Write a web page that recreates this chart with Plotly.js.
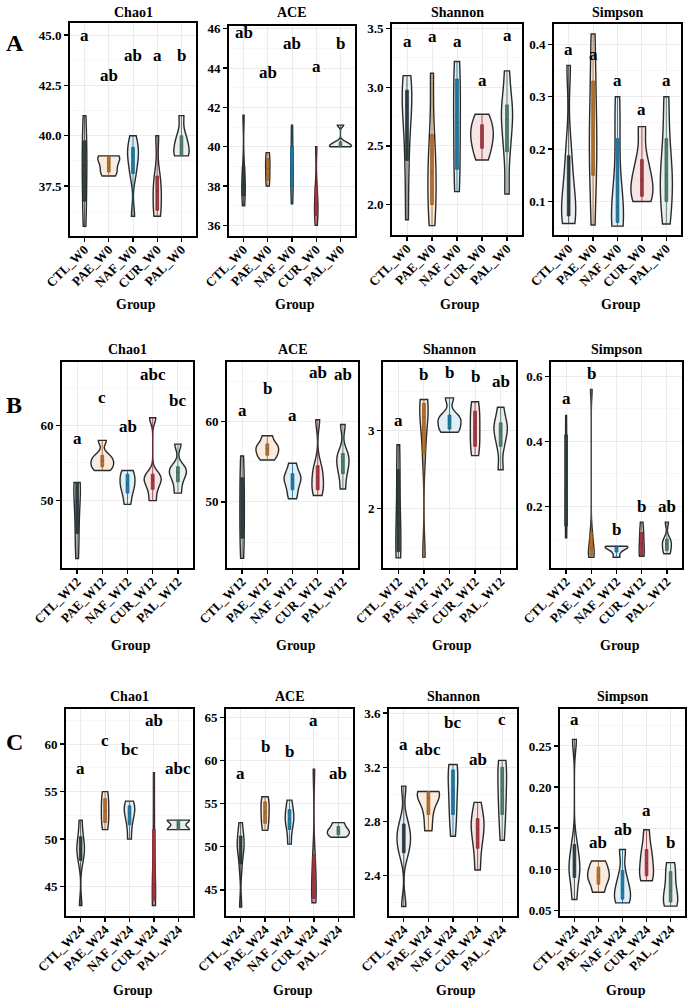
<!DOCTYPE html>
<html>
<head>
<meta charset="utf-8">
<script src="https://cdn.plot.ly/plotly-3.0.1.min.js"></script>
<style>html,body{margin:0;padding:0;background:#fff}</style>
</head>
<body>
<div id="chart" style="width:694px;height:1005px"></div>
<script>
// Treatment groups and sampling weeks
const groups = ['CTL', 'PAE', 'NAF', 'CUR', 'PAL'];
const weeks = ['W0', 'W12', 'W24'];
const indices = ['Chao1', 'ACE', 'Shannon', 'Simpson'];

// Per-sample alpha diversity values, one inner list per group (CTL, PAE, NAF, CUR, PAL)
const chao1W0 = [
  [35.5, 36.5, 37.5, 38.5, 39, 40, 41],
  [38, 38.2, 38.5, 38.8, 39, 39],
  [36, 38, 38.5, 39, 39.2, 39.5, 40],
  [36, 36.3, 37, 37.5, 38, 40],
  [39, 39, 39.3, 39.7, 40, 41]
];
const aceW0 = [
  [37, 37.5, 38, 38.2, 39, 41.6],
  [38, 38.4, 38.9, 39.3, 39.7],
  [37.1, 38, 38.5, 39, 40, 41.1],
  [36, 36.5, 37, 37.2, 38, 40],
  [40, 40, 40.05, 40.15, 40.25, 41.1]
];
const shannonW0 = [
  [1.87, 2.3, 2.6, 2.85, 2.9, 3.0, 3.1],
  [1.82, 2.0, 2.2, 2.35, 2.6, 3.12],
  [2.11, 2.3, 2.6, 2.8, 3.07, 3.22],
  [2.38, 2.48, 2.55, 2.62, 2.68, 2.77],
  [2.09, 2.45, 2.65, 2.8, 2.85, 3.14]
];
const simpsonW0 = [
  [0.058, 0.07, 0.08, 0.1, 0.15, 0.2, 0.36],
  [0.055, 0.15, 0.2, 0.25, 0.33, 0.42],
  [0.053, 0.06, 0.08, 0.1, 0.22, 0.3],
  [0.1, 0.11, 0.13, 0.15, 0.18, 0.243],
  [0.057, 0.1, 0.14, 0.16, 0.22, 0.3]
];
const chao1W12 = [
  [42.3, 45, 47.5, 50, 52, 52.4, 52.4],
  [54, 54.5, 55, 55.5, 56, 58],
  [49.5, 51, 52, 52.5, 53.5, 54],
  [50, 51.5, 52.5, 53, 53.5, 61],
  [51, 52.5, 53.5, 54, 54.5, 57.5]
];
const aceW12 = [
  [43, 45.5, 48, 50.5, 53, 55.7],
  [55.2, 55.8, 56.3, 56.8, 57.2, 58.2],
  [50.4, 51.5, 52.5, 53, 53.5, 54.8],
  [50.8, 51.5, 52.5, 53.5, 54.5, 60.2],
  [51.6, 53.5, 54.5, 55.5, 56, 59.6]
];
const shannonW12 = [
  [1.37, 1.45, 1.6, 2.0, 2.5, 2.82],
  [1.38, 2.7, 3.1, 3.25, 3.35, 3.4],
  [2.98, 3.02, 3.1, 3.15, 3.2, 3.42],
  [2.68, 2.8, 2.95, 3.1, 3.25, 3.37],
  [2.5, 2.8, 2.95, 3.05, 3.1, 3.3]
];
const simpsonW12 = [
  [0.104, 0.14, 0.2, 0.3, 0.42, 0.48],
  [0.044, 0.05, 0.06, 0.08, 0.12, 0.56],
  [0.044, 0.06, 0.07, 0.075, 0.078, 0.078],
  [0.047, 0.05, 0.07, 0.1, 0.12, 0.152],
  [0.055, 0.065, 0.08, 0.09, 0.1, 0.152]
];
const chao1W24 = [
  [43, 47.5, 48.5, 49, 49.5, 50.5, 52],
  [51, 52, 53, 54, 55],
  [50, 51.5, 52.5, 53, 53.5, 54],
  [43, 43.5, 44.5, 46, 51, 57],
  [51, 51, 51, 52, 52, 52]
];
const aceW24 = [
  [43, 47.5, 49.5, 50, 50.5, 51.5, 52.8],
  [51.9, 53, 54, 55, 55.8],
  [50.3, 52, 53, 53.5, 54.3, 55.4],
  [43.5, 44, 45.5, 47, 49, 59],
  [51.1, 51.5, 51.8, 52.2, 52.8]
];
const shannonW24 = [
  [2.17, 2.55, 2.62, 2.68, 2.72, 2.8, 3.06],
  [2.73, 2.85, 2.95, 3.0, 3.02, 3.02],
  [2.69, 2.85, 2.95, 3.1, 3.18, 3.22],
  [2.44, 2.6, 2.7, 2.78, 2.82, 2.94],
  [2.66, 2.85, 2.95, 3.1, 3.2, 3.25]
];
const simpsonW24 = [
  [0.063, 0.09, 0.1, 0.11, 0.13, 0.258],
  [0.072, 0.085, 0.092, 0.1, 0.11],
  [0.059, 0.065, 0.075, 0.09, 0.124],
  [0.086, 0.092, 0.1, 0.115, 0.124, 0.148],
  [0.055, 0.06, 0.065, 0.08, 0.097, 0.108]
];

// Significance letters per group and the height each letter sits at
const chao1W0Letters = ['a', 'ab', 'ab', 'a', 'b'];
const chao1W0LetterY = [45.0, 43.0, 44.0, 44.0, 44.0];
const aceW0Letters = ['ab', 'ab', 'ab', 'a', 'b'];
const aceW0LetterY = [45.8, 43.8, 45.25, 44.1, 45.25];
const shannonW0Letters = ['a', 'a', 'a', 'a', 'a'];
const shannonW0LetterY = [3.39, 3.43, 3.39, 3.06, 3.44];
const simpsonW0Letters = ['a', 'a', 'a', 'a', 'a'];
const simpsonW0LetterY = [0.39, 0.38, 0.332, 0.276, 0.332];
const chao1W12Letters = ['a', 'c', 'ab', 'abc', 'bc'];
const chao1W12LetterY = [58.2, 63.7, 59.8, 66.8, 63.3];
const aceW12Letters = ['a', 'b', 'a', 'ab', 'ab'];
const aceW12LetterY = [61.4, 64.1, 60.7, 66.1, 65.8];
const shannonW12Letters = ['a', 'b', 'b', 'b', 'ab'];
const shannonW12LetterY = [3.13, 3.72, 3.74, 3.70, 3.63];
const simpsonW12Letters = ['a', 'b', 'b', 'b', 'ab'];
const simpsonW12LetterY = [0.533, 0.61, 0.13, 0.20, 0.20];
const chao1W24Letters = ['a', 'c', 'bc', 'ab', 'abc'];
const chao1W24LetterY = [57.4, 60.4, 59.4, 62.5, 57.4];
const aceW24Letters = ['a', 'b', 'b', 'a', 'ab'];
const aceW24LetterY = [58.5, 61.6, 61.0, 64.6, 58.5];
const shannonW24Letters = ['a', 'abc', 'bc', 'ab', 'c'];
const shannonW24LetterY = [3.37, 3.33, 3.53, 3.26, 3.55];
const simpsonW24Letters = ['a', 'ab', 'ab', 'a', 'b'];
const simpsonW24LetterY = [0.282, 0.133, 0.148, 0.172, 0.133];

const panelData = [
  [chao1W0, aceW0, shannonW0, simpsonW0],
  [chao1W12, aceW12, shannonW12, simpsonW12],
  [chao1W24, aceW24, shannonW24, simpsonW24]
];
const panelLetters = [
  [[chao1W0Letters, chao1W0LetterY], [aceW0Letters, aceW0LetterY], [shannonW0Letters, shannonW0LetterY], [simpsonW0Letters, simpsonW0LetterY]],
  [[chao1W12Letters, chao1W12LetterY], [aceW12Letters, aceW12LetterY], [shannonW12Letters, shannonW12LetterY], [simpsonW12Letters, simpsonW12LetterY]],
  [[chao1W24Letters, chao1W24LetterY], [aceW24Letters, aceW24LetterY], [shannonW24Letters, shannonW24LetterY], [simpsonW24Letters, simpsonW24LetterY]]
];

// ---- styling ----
const W = 694, H = 1005;
const SERIF = 'Liberation Serif, Times New Roman, serif';
const fillColors = ['#eceff1', '#f9ebdf', '#e0eff7', '#f6e5e4', '#e9efeb'];
const boxColors = ['#2f3c40', '#b8712a', '#1d79a6', '#a83640', '#4e7d6c'];
const boxEdge = ['#263033', '#8e5620', '#175f82', '#832a32', '#3c6153'];

// panel frames in pixels: [left, right, top, bottom]
const frames = [
  [[70, 196, 23, 236], [229, 355, 26, 236], [392, 522, 24, 235], [554, 681, 24, 235]],
  [[62, 193, 362, 568], [227, 358, 362, 568], [383, 516, 362, 568], [551, 682, 362, 568]],
  [[66, 193, 709, 916], [226, 353, 709, 916], [389, 517, 709, 916], [560, 685, 709, 916]]
];
const yRanges = [
  [[35.02, 45.6], [35.46, 46.14], [1.74, 3.54], [0.036, 0.439]],
  [[41.06, 68.4], [41.8, 67.36], [1.24, 3.88], [0.011, 0.644]],
  [[41.9, 63.7], [41.97, 65.97], [2.10, 3.63], [0.043, 0.295]]
];
const yTicks = [
  [[37.5, 2.5, '.1f'], [36, 2, ''], [2.0, 0.5, '.1f'], [0.1, 0.1, '.1f']],
  [[50, 10, ''], [50, 10, ''], [2, 1, ''], [0.2, 0.2, '.1f']],
  [[45, 5, ''], [45, 5, ''], [2.4, 0.4, '.1f'], [0.05, 0.05, '.2f']]
];
const titleY = [12, 349, 696];
const groupLabelY = [304, 645, 990];
const rowTags = [['A', 15, 43], ['B', 14, 405], ['C', 14, 742]];

// ---- kernel density helpers (Gaussian kernel, nrd0 bandwidth) ----
function quantile(sorted, p) {
  const h = (sorted.length - 1) * p, lo = Math.floor(h);
  const hi = Math.min(lo + 1, sorted.length - 1);
  return sorted[lo] + (h - lo) * (sorted[hi] - sorted[lo]);
}
function nrd0(v) {
  const n = v.length, s = [...v].sort((a, b) => a - b);
  const mean = v.reduce((a, b) => a + b, 0) / n;
  const sd = Math.sqrt(v.reduce((a, b) => a + (b - mean) * (b - mean), 0) / (n - 1));
  const iqr = quantile(s, 0.75) - quantile(s, 0.25);
  let lo = Math.min(sd, iqr / 1.34);
  if (!(lo > 0)) lo = sd || Math.abs(s[0]) || 1;
  return 0.9 * lo * Math.pow(n, -0.2);
}
function peakDensity(v, bw) {
  const mn = Math.min(...v), mx = Math.max(...v), n = v.length;
  let best = 0;
  for (let k = 0; k < 512; k++) {
    const t = mn + (mx - mn) * k / 511;
    let d = 0;
    for (const x of v) { const z = (t - x) / bw; d += Math.exp(-0.5 * z * z); }
    d /= n * bw * Math.sqrt(2 * Math.PI);
    if (d > best) best = d;
  }
  return best;
}

const violins = [], boxes = [], annotations = [];
const layout = {
  width: W, height: H,
  margin: {l: 0, r: 0, t: 0, b: 0},
  paper_bgcolor: '#fff', plot_bgcolor: '#fff',
  showlegend: false, violinmode: 'overlay', boxmode: 'overlay',
  font: {family: SERIF, color: '#000'}
};

const px = x => x / W, py = y => 1 - y / H;

for (let r = 0; r < 3; r++) {
  const cats = groups.map(g => g + '_' + weeks[r]);
  for (let c = 0; c < 4; c++) {
    const k = r * 4 + c + 1;
    const xa = 'xaxis' + (k === 1 ? '' : k), ya = 'yaxis' + (k === 1 ? '' : k);
    const xr = 'x' + (k === 1 ? '' : k), yr = 'y' + (k === 1 ? '' : k);
    const [l, rt, t, b] = frames[r][c];
    const [tick0, dtick, fmt] = yTicks[r][c];
    const axisCommon = {
      showline: true, mirror: true, linewidth: 2, linecolor: '#000',
      ticks: 'outside', ticklen: 4, tickwidth: 1.3, tickcolor: '#000',
      tickfont: {family: SERIF, size: 13, color: '#000', weight: 'bold'},
      zeroline: false, fixedrange: true
    };
    layout[xa] = Object.assign({}, axisCommon, {
      domain: [px(l), px(rt)], anchor: yr,
      type: 'category', categoryorder: 'array', categoryarray: cats,
      range: [-0.6, 4.6], tickangle: -45, ticklabelstandoff: -5,
      tickfont: {family: SERIF, size: 13, color: '#000', weight: 'bold'},
      showgrid: true, gridcolor: '#e4e4e4', gridwidth: 0.7
    });
    layout[ya] = Object.assign({}, axisCommon, {
      domain: [py(b), py(t)], anchor: xr,
      range: yRanges[r][c], tick0: tick0, dtick: dtick, tickformat: fmt,
      showgrid: true, gridcolor: '#e4e4e4', gridwidth: 0.7,
      minor: {tick0: tick0, dtick: dtick / 2, showgrid: true, gridcolor: '#f0f0f0', gridwidth: 0.5, ticks: ''}
    });

    // violins scaled so every group encloses the same area
    const sets = panelData[r][c];
    const bws = sets.map(nrd0);
    const peaks = sets.map((v, i) => peakDensity(v, bws[i]));
    const maxPeak = Math.max(...peaks);
    sets.forEach((v, i) => {
      const xs = v.map(() => cats[i]);
      violins.push({
        type: 'violin', xaxis: xr, yaxis: yr, x: xs, y: v,
        bandwidth: bws[i], spanmode: 'hard', scalemode: 'width',
        width: 0.9 * peaks[i] / maxPeak,
        points: false, hoverinfo: 'skip',
        fillcolor: fillColors[i],
        line: {color: '#2a2a2a', width: 1.4},
        meanline: {visible: false}, box: {visible: false}
      });
      // narrow inner box plot
      boxes.push({
        type: 'box', xaxis: xr, yaxis: yr, x: xs, y: v,
        width: 0.11, whiskerwidth: 0, boxpoints: false, hoverinfo: 'skip',
        fillcolor: boxColors[i], line: {color: boxEdge[i], width: 0.8}
      });
    });

    // significance letters
    const [letters, ys] = panelLetters[r][c];
    letters.forEach((txt, i) => annotations.push({
      xref: xr, yref: yr, x: cats[i], y: ys[i], text: txt, showarrow: false,
      xanchor: 'center', yanchor: 'middle',
      font: {family: SERIF, size: 17, color: '#000', weight: 'bold'}
    }));

    // panel title and x-axis title
    const cx = (l + rt) / 2;
    annotations.push({xref: 'paper', yref: 'paper', x: px(cx), y: py(titleY[r]), text: indices[c],
      showarrow: false, xanchor: 'center', yanchor: 'middle',
      font: {family: SERIF, size: 14, color: '#000', weight: 'bold'}});
    annotations.push({xref: 'paper', yref: 'paper', x: px(cx + 3), y: py(groupLabelY[r]), text: 'Group',
      showarrow: false, xanchor: 'center', yanchor: 'middle',
      font: {family: SERIF, size: 14, color: '#000', weight: 'bold'}});
  }
}

rowTags.forEach(([txt, x, y]) => annotations.push({
  xref: 'paper', yref: 'paper', x: px(x), y: py(y), text: txt, showarrow: false,
  xanchor: 'center', yanchor: 'middle',
  font: {family: SERIF, size: 24, color: '#000', weight: 'bold'}
}));

layout.annotations = annotations;
Plotly.newPlot('chart', violins.concat(boxes), layout, {staticPlot: true, displayModeBar: false});
</script>
</body>
</html>
